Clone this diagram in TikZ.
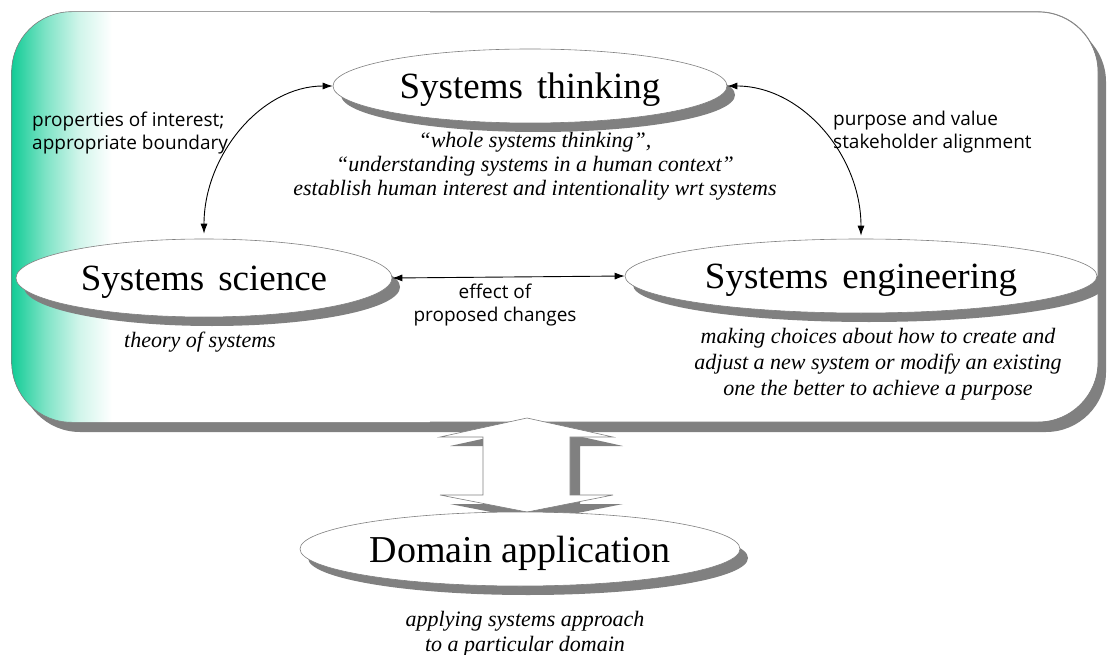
\documentclass[tikz,border=0pt]{standalone}
\usepackage{fontspec}
\setmainfont{Liberation Serif}
\newfontfamily\labfont{Open Sans}
\usetikzlibrary{shapes.geometric,arrows.meta,shadows}
\definecolor{teal1}{RGB}{18,204,150}
\definecolor{outl}{RGB}{128,128,128}
\definecolor{shd}{RGB}{128,128,128}
\pgfdeclarehorizontalshading{tealfade}{100bp}{color(0bp)=(teal1); color(25bp)=(teal1); color(29bp)=(teal1!55); color(33bp)=(teal1!20); color(37bp)=(white); color(100bp)=(white)}
\tikzset{
 ell/.style={ellipse, draw=outl, line width=0.6pt, fill=white, inner sep=0pt,
   font=\fontsize{37}{40}\selectfont, text depth=0pt,
   copy shadow={shadow xshift=8pt, shadow yshift=-9pt, fill=shd, draw=none}},
 sub/.style={font=\fontsize{22}{24}\selectfont\itshape, align=center, inner sep=0pt},
 lab/.style={font=\labfont\fontsize{19}{23}\selectfont, align=left, inner sep=0pt},
 conn/.style={line width=0.9pt, {Latex[length=10pt,width=7pt]}-{Latex[length=10pt,width=7pt]}},
 blockarrow/.style={fill=white, draw=outl, line width=0.6pt},
}
\begin{document}
\begin{tikzpicture}[x=1pt,y=-1pt]
\useasboundingbox (0,0) rectangle (1108,655);
% main frame
\node[draw=outl, line width=0.6pt, rounded corners=60pt, minimum width=1086pt,
  minimum height=410pt, inner sep=0pt, fill=white,
  copy shadow={shadow xshift=8pt, shadow yshift=-10pt, fill=shd, draw=none}] (frame) at (555,217) {};
\begin{scope}
 \clip[rounded corners=60pt] (frame.north west) rectangle (frame.south east);
 \shade[shading=tealfade] (frame.north west) rectangle ([xshift=418pt]frame.south west);
\end{scope}
\draw[outl, line width=0.6pt, rounded corners=60pt] (frame.north west) rectangle (frame.south east);

% ellipses
\node[ell, minimum width=394pt, minimum height=74pt] (think) at (530,86) {Systems\hspace{0.38em}thinking};
\node[ell, minimum width=376pt, minimum height=78pt] (sci) at (204,278) {Systems\hspace{0.38em}science};
\node[ell, minimum width=472pt, minimum height=74pt] (eng) at (861,276) {Systems\hspace{0.38em}engineering};

% subtitles
\node[sub] (thinksub) at (535,166) {“whole systems thinking”,\\“understanding systems in a human context”\\establish human interest and intentionality wrt systems};
\node[sub] (scisub) at (200,342) {theory of systems};
\node[sub, font=\fontsize{22}{26}\selectfont\itshape] (engsub) at (878,364) {making choices about how to create and\\adjust a new system or modify an existing\\one the better to achieve a purpose};

% labels
\node[lab, anchor=west] (labL) at (32,133) {properties of interest;\\appropriate boundary};
\node[lab, anchor=west] (labR) at (833,132) {purpose and value\\stakeholder alignment};
\node[lab, align=center] (labM) at (495,305) {effect of\\proposed changes};

% connectors
\draw[conn, shorten <=5pt] (sci.north) .. controls +(0,-83) and +(-72,0) .. (think.west);
\draw[conn, shorten >=3pt] (think.east) .. controls +(74,0) and +(0,-84) .. (eng.north);
\draw[conn] (sci.east) -- (eng.west);

% block double arrow
\fill[shd, shift={(10,9)}] (527,418) -- (613,437) -- (570,437) -- (570,495) -- (613,495) -- (527,512) -- (440,495) -- (483,495) -- (483,437) -- (440,437) -- cycle;
\path[blockarrow] (527,418) -- (613,437) -- (570,437) -- (570,495) -- (613,495) -- (527,512) -- (440,495) -- (483,495) -- (483,437) -- (440,437) -- cycle;

% domain
\node[ell, minimum width=440pt, minimum height=74pt, font=\fontsize{38}{40}\selectfont] (dom) at (520,549) {Domain application};
\node[sub, font=\fontsize{22}{25}\selectfont\itshape] (domsub) at (525,634) {applying systems approach\\to a particular domain};
\end{tikzpicture}
\end{document}
